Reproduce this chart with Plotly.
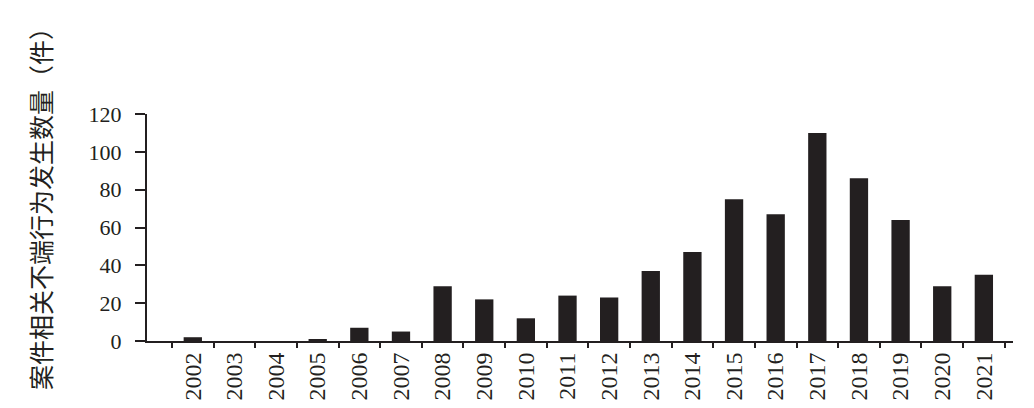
import plotly.graph_objects as go

years = ["2002", "2003", "2004", "2005", "2006", "2007", "2008", "2009", "2010", "2011",
         "2012", "2013", "2014", "2015", "2016", "2017", "2018", "2019", "2020", "2021"]
counts = [2, 0, 0, 1, 7, 5, 29, 22, 12, 24, 23, 37, 47, 75, 67, 110, 86, 64, 29, 35]
y_ticks = [0, 20, 40, 60, 80, 100, 120]
y_title = "案件相关不端行为发生数量（件）"

serif = "Liberation Serif, Times New Roman, serif"
ink = "#231f20"

# the page body has an 8px margin, so the figure is 8px smaller than the window
W, H = 1026, 400
L, R, T, B = 139, 21, 106, 67

fig = go.Figure(go.Bar(
    x=years, y=counts,
    marker=dict(color=ink, line=dict(width=0)),
    width=0.44,
))

fig.update_layout(
    width=W, height=H,
    margin=dict(l=L, r=R, t=T, b=B, autoexpand=False),
    paper_bgcolor="white", plot_bgcolor="white",
    showlegend=False,
    font=dict(family=serif, color=ink),
)

fig.update_xaxes(
    type="category",
    range=[-1.1, 19.7],
    automargin=False,
    showline=True, linecolor=ink, linewidth=2,
    ticks="outside", tickson="boundaries", ticklen=5, tickwidth=2, tickcolor=ink,
    tickangle=-90,
    ticklabelstandoff=0,
    tickfont=dict(family=serif, size=24, color=ink),
    showgrid=False, zeroline=False,
)

fig.update_yaxes(
    range=[0, 120],
    automargin=False,
    tickvals=y_ticks,
    showline=True, linecolor=ink, linewidth=2,
    ticks="outside", ticklen=10, tickwidth=2, tickcolor=ink,
    ticklabelstandoff=9,
    tickfont=dict(family=serif, size=22, color=ink),
    showgrid=False, zeroline=False,
)

plot_w = W - L - R
plot_h = H - T - B
fig.add_annotation(
    text=y_title, textangle=-90,
    xref="paper", yref="paper",
    x=(32 - L) / plot_w, y=(H - B - 195) / plot_h,
    xanchor="center", yanchor="middle",
    showarrow=False,
    font=dict(family="Noto Sans CJK SC", size=25, color=ink),
)

fig.write_html("out.html")
